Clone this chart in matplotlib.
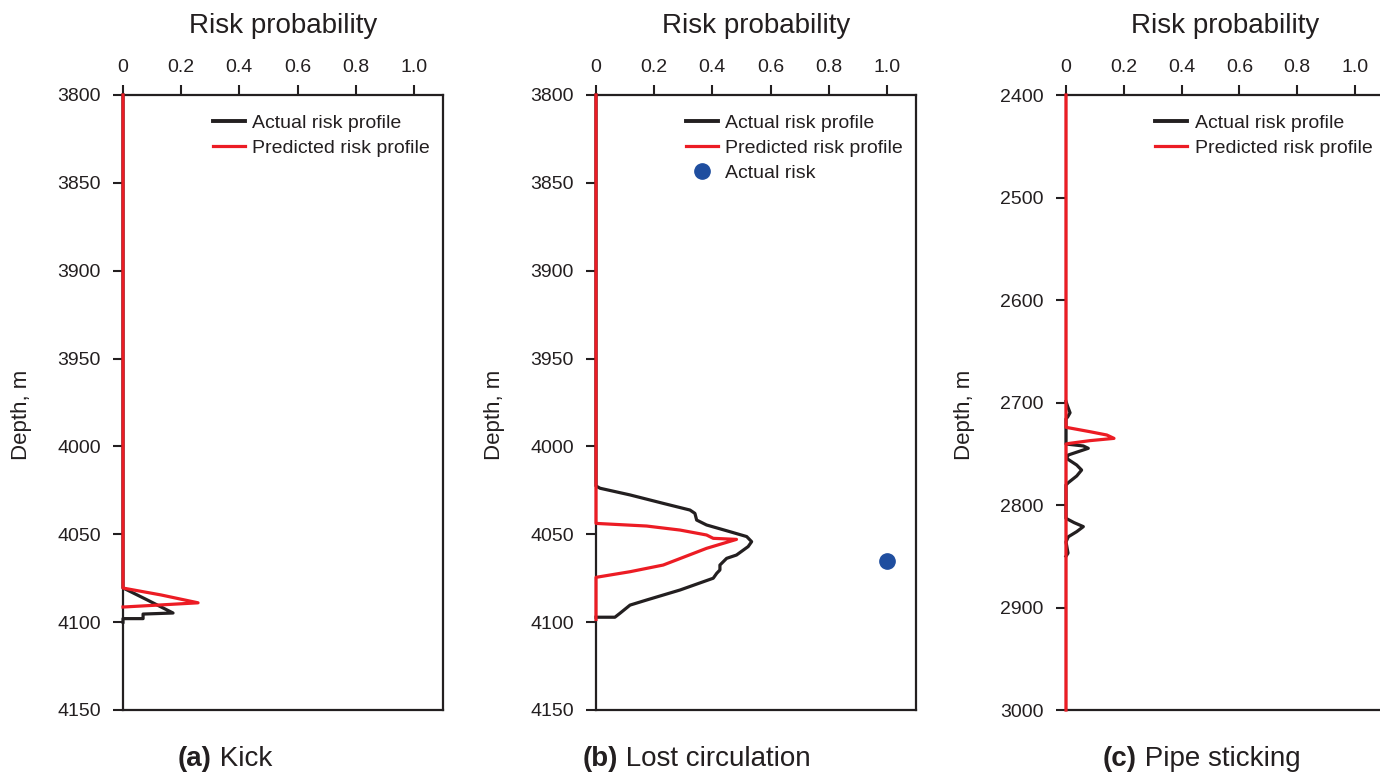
import matplotlib.pyplot as plt
from matplotlib.lines import Line2D

plt.rcParams['font.family'] = ['Liberation Sans', 'DejaVu Sans']
plt.rcParams['text.color'] = '#231f20'
plt.rcParams['axes.labelcolor'] = '#231f20'

# ----------------------------
# Data: depth (m) vs risk probability
# ----------------------------
# (a) Kick
kick_actual_depth = [3800, 4080.5, 4087.5, 4094.8, 4095.4, 4098.0, 4098.0, 4100]
kick_actual_risk = [0, 0, 0.085, 0.172, 0.069, 0.069, 0, 0]
kick_pred_depth = [3800, 4080.6, 4084.5, 4089.0, 4090.2, 4091.4]
kick_pred_risk = [0, 0, 0.13, 0.258, 0.13, 0]

# (b) Lost circulation
lost_actual_depth = [3800, 4022.5, 4023.8, 4027.6, 4032.4, 4036.2, 4038.1, 4041.9,
                     4044.7, 4048.5, 4051.3, 4054.2, 4057.0, 4061.8, 4063.7, 4067.5,
                     4070.3, 4072.2, 4075.0, 4081.7, 4087.4, 4090.3, 4095.0, 4097.2,
                     4097.2]
lost_actual_risk = [0, 0, 0.014, 0.117, 0.231, 0.323, 0.340, 0.346,
                    0.380, 0.460, 0.518, 0.535, 0.523, 0.483, 0.449, 0.426,
                    0.426, 0.415, 0.403, 0.289, 0.174, 0.117, 0.082, 0.065,
                    0]
lost_pred_depth = [3800, 4043.8, 4045.3, 4047.6, 4050.4, 4052.3, 4052.9, 4058.0,
                   4062.4, 4067.5, 4071.3, 4074.5, 4098.5]
lost_pred_risk = [0, 0, 0.174, 0.289, 0.380, 0.403, 0.483, 0.380,
                  0.311, 0.231, 0.117, 0, 0]
lost_event_depth = [4065.2]
lost_event_risk = [1.0]

# (c) Pipe sticking
stick_actual_depth = [2699, 2704, 2710, 2714, 2716, 2740.5, 2742.4, 2744.7, 2748.0,
                      2751.2, 2754.5, 2761.0, 2765.9, 2771.7, 2778.2, 2780.5, 2813.0,
                      2817.2, 2821.1, 2826.0, 2831.0, 2836.0, 2847.0, 2850.0]
stick_actual_risk = [0, 0.006, 0.014, 0.006, 0, 0, 0.060, 0.077, 0.042,
                     0.008, 0.002, 0.037, 0.054, 0.037, 0.008, 0, 0,
                     0.028, 0.060, 0.037, 0.008, 0, 0.007, 0]
stick_pred_depth = [2400, 2724.2, 2728.5, 2731.7, 2735.0, 2737.2, 2739.8, 2740.5, 3000]
stick_pred_risk = [0, 0, 0.083, 0.141, 0.166, 0.083, 0.014, 0, 0]

x_ticks = [0, 0.2, 0.4, 0.6, 0.8, 1.0]
x_tick_labels = ['0', '0.2', '0.4', '0.6', '0.8', '1.0']

BLACK = '#231f20'
RED = '#ec1c24'
BLUE = '#1f4e9f'
LW = 2.3

W, H = 1380, 776
fig = plt.figure(figsize=(W / 100, H / 100), dpi=100)


def make_axes(left_px, top_px=95, bottom_px=710, width_px=320):
    return fig.add_axes([left_px / W, 1 - bottom_px / H,
                         width_px / W, (bottom_px - top_px) / H])


def style_axes(ax, ylim, yticks):
    ax.set_xlim(0, 1.1)
    ax.set_ylim(ylim[1], ylim[0])
    ax.set_yticks(yticks)
    ax.set_xticks(x_ticks)
    ax.set_xticklabels(x_tick_labels)
    ax.xaxis.tick_top()
    ax.tick_params(axis='both', direction='out', length=7, width=1.5,
                   color=BLACK, labelsize=14, labelcolor=BLACK)
    ax.tick_params(axis='x', pad=7)
    ax.tick_params(axis='y', pad=9)
    for s in ax.spines.values():
        s.set_linewidth(1.6)
        s.set_color(BLACK)
    ax.set_ylabel('Depth, m', fontsize=16)
    ax.yaxis.set_label_coords(-0.285, 0.48)
    ax.text(0.5, 1 + 69 / 615, 'Risk probability', transform=ax.transAxes,
            ha='center', va='center', fontsize=20)


def caption(x_px, tag, name):
    t = fig.text(x_px / W, 1 - 759 / H, tag, fontsize=20, fontweight='bold',
                 ha='left', va='center')
    fig.axes[0].annotate(' ' + name, xy=(1, 0), xycoords=t, fontsize=20,
                         ha='left', va='bottom', annotation_clip=False)


def legend(ax, with_point=False):
    handles = [Line2D([], [], color=BLACK, lw=LW + 0.5, label='Actual risk profile'),
               Line2D([], [], color=RED, lw=LW, label='Predicted risk profile')]
    if with_point:
        handles.append(Line2D([], [], color=BLUE, marker='o', ls='none',
                              markersize=11, label='Actual risk'))
    ax.legend(handles=handles, loc='upper left', bbox_to_anchor=(0.28, 0.969),
              frameon=False, fontsize=14, borderpad=0, borderaxespad=0,
              handlelength=1.65, handletextpad=0.4, labelspacing=0.38)


def draw_profiles(ax, actual_risk, actual_depth, pred_risk, pred_depth):
    ax.plot(actual_risk, actual_depth, color=BLACK, lw=LW, zorder=3, clip_on=False)
    ax.plot(pred_risk, pred_depth, color=RED, lw=LW, zorder=4, clip_on=False)


# (a) Kick
ax1 = make_axes(123)
draw_profiles(ax1, kick_actual_risk, kick_actual_depth, kick_pred_risk, kick_pred_depth)
style_axes(ax1, (3800, 4150), range(3800, 4151, 50))
legend(ax1)

# (b) Lost circulation
ax2 = make_axes(596)
draw_profiles(ax2, lost_actual_risk, lost_actual_depth, lost_pred_risk, lost_pred_depth)
ax2.plot(lost_event_risk, lost_event_depth, 'o', color=BLUE, markersize=11,
         clip_on=False, zorder=5)
style_axes(ax2, (3800, 4150), range(3800, 4151, 50))
legend(ax2, with_point=True)

# (c) Pipe sticking
ax3 = make_axes(1066, width_px=318)
draw_profiles(ax3, stick_actual_risk, stick_actual_depth, stick_pred_risk, stick_pred_depth)
style_axes(ax3, (2400, 3000), range(2400, 3001, 100))
legend(ax3)

caption(178, '(a)', 'Kick')
caption(583, '(b)', 'Lost circulation')
caption(1103, '(c)', 'Pipe sticking')

fig.savefig('out.png', dpi=100)
